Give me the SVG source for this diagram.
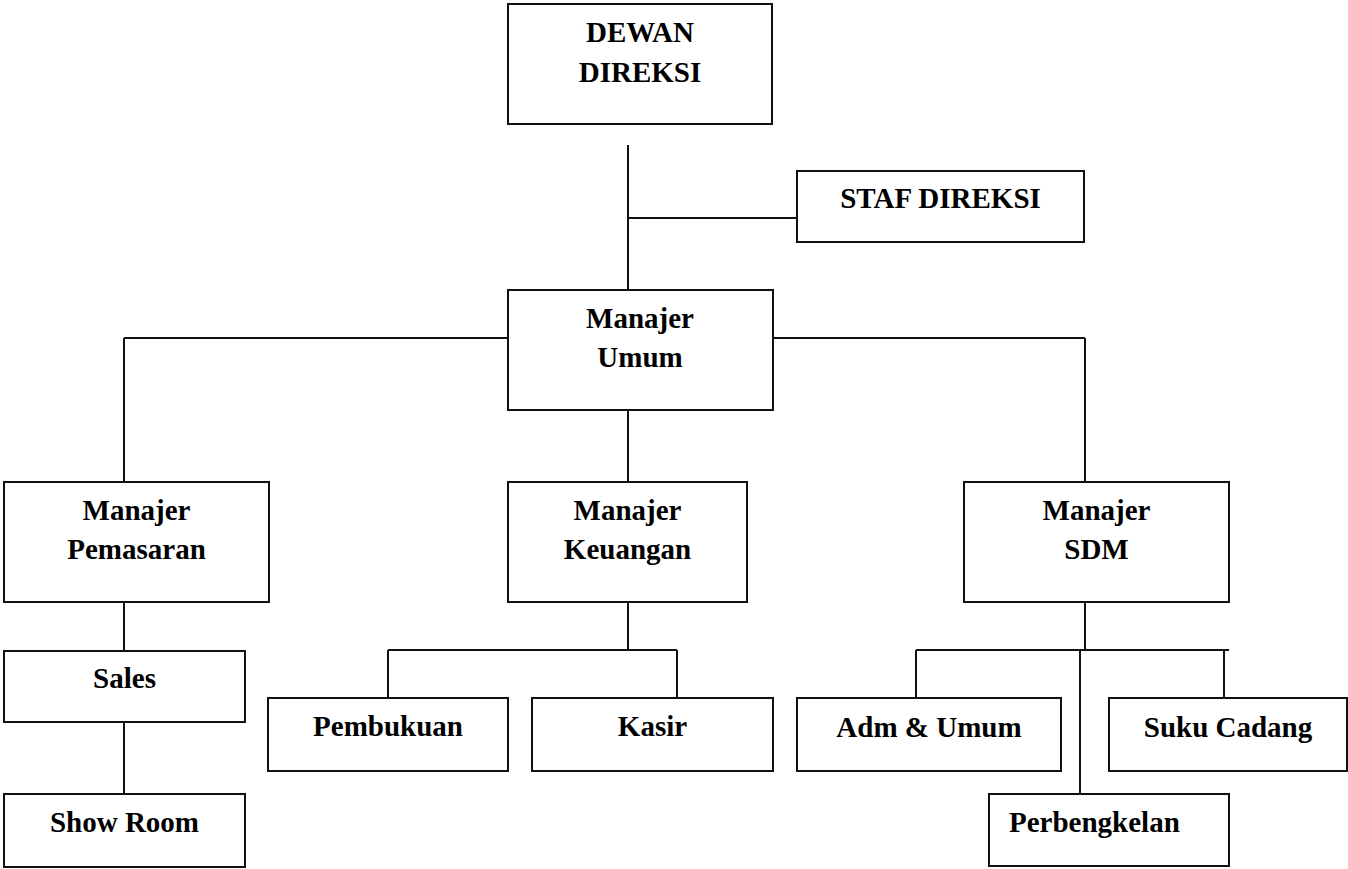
<svg xmlns="http://www.w3.org/2000/svg" width="1348" height="869" viewBox="0 0 1348 869">
<style>
.box{fill:#fff;stroke:#111;stroke-width:2}
.lbl{font-family:"Liberation Serif","Times New Roman",serif;font-weight:bold;font-size:29px;fill:#000;text-anchor:middle}
.con{stroke:#111;stroke-width:2;fill:none}
</style>
<rect width="1348" height="869" fill="#fff"/>
<g id="connectors">
<path class="con" d="M628,145V290 M628,218H797 M124,338H508 M773,338H1085 M124,338V482 M1085,338V482 M628,410V482 M124,602V651 M124,722V794 M628,602V650 M388,650H677 M388,650V698 M677,650V698 M1085,602V650 M916,650H1229 M916,650V698 M1224,650V698 M1080,650V794"/>
</g>
<g id="dewan-direksi"><rect class="box" x="508" y="4" width="264" height="120"/><text class="lbl" x="640" y="42">DEWAN</text><text class="lbl" x="640" y="82">DIREKSI</text></g>
<g id="staf-direksi"><rect class="box" x="797" y="171" width="287" height="71"/><text class="lbl" x="940.5" y="208">STAF DIREKSI</text></g>
<g id="manajer-umum"><rect class="box" x="508" y="290" width="265" height="120"/><text class="lbl" x="640" y="328">Manajer</text><text class="lbl" x="640" y="367">Umum</text></g>
<g id="manajer-pemasaran"><rect class="box" x="4" y="482" width="265" height="120"/><text class="lbl" x="136.5" y="520">Manajer</text><text class="lbl" x="136.5" y="559">Pemasaran</text></g>
<g id="manajer-keuangan"><rect class="box" x="508" y="482" width="239" height="120"/><text class="lbl" x="627.5" y="520">Manajer</text><text class="lbl" x="627.5" y="559">Keuangan</text></g>
<g id="manajer-sdm"><rect class="box" x="964" y="482" width="265" height="120"/><text class="lbl" x="1096.5" y="520">Manajer</text><text class="lbl" x="1096.5" y="559">SDM</text></g>
<g id="sales"><rect class="box" x="4" y="651" width="241" height="71"/><text class="lbl" x="124.5" y="688">Sales</text></g>
<g id="show-room"><rect class="box" x="4" y="794" width="241" height="73"/><text class="lbl" x="124.5" y="832">Show Room</text></g>
<g id="pembukuan"><rect class="box" x="268" y="698" width="240" height="73"/><text class="lbl" x="388" y="736">Pembukuan</text></g>
<g id="kasir"><rect class="box" x="532" y="698" width="241" height="73"/><text class="lbl" x="652.5" y="736">Kasir</text></g>
<g id="adm-umum"><rect class="box" x="797" y="698" width="264" height="73"/><text class="lbl" x="929" y="737">Adm &amp; Umum</text></g>
<g id="suku-cadang"><rect class="box" x="1109" y="698" width="238" height="73"/><text class="lbl" x="1228" y="737">Suku Cadang</text></g>
<g id="perbengkelan"><rect class="box" x="989" y="794" width="240" height="72"/><text class="lbl" x="1009" y="832" style="text-anchor:start">Perbengkelan</text></g>
</svg>
